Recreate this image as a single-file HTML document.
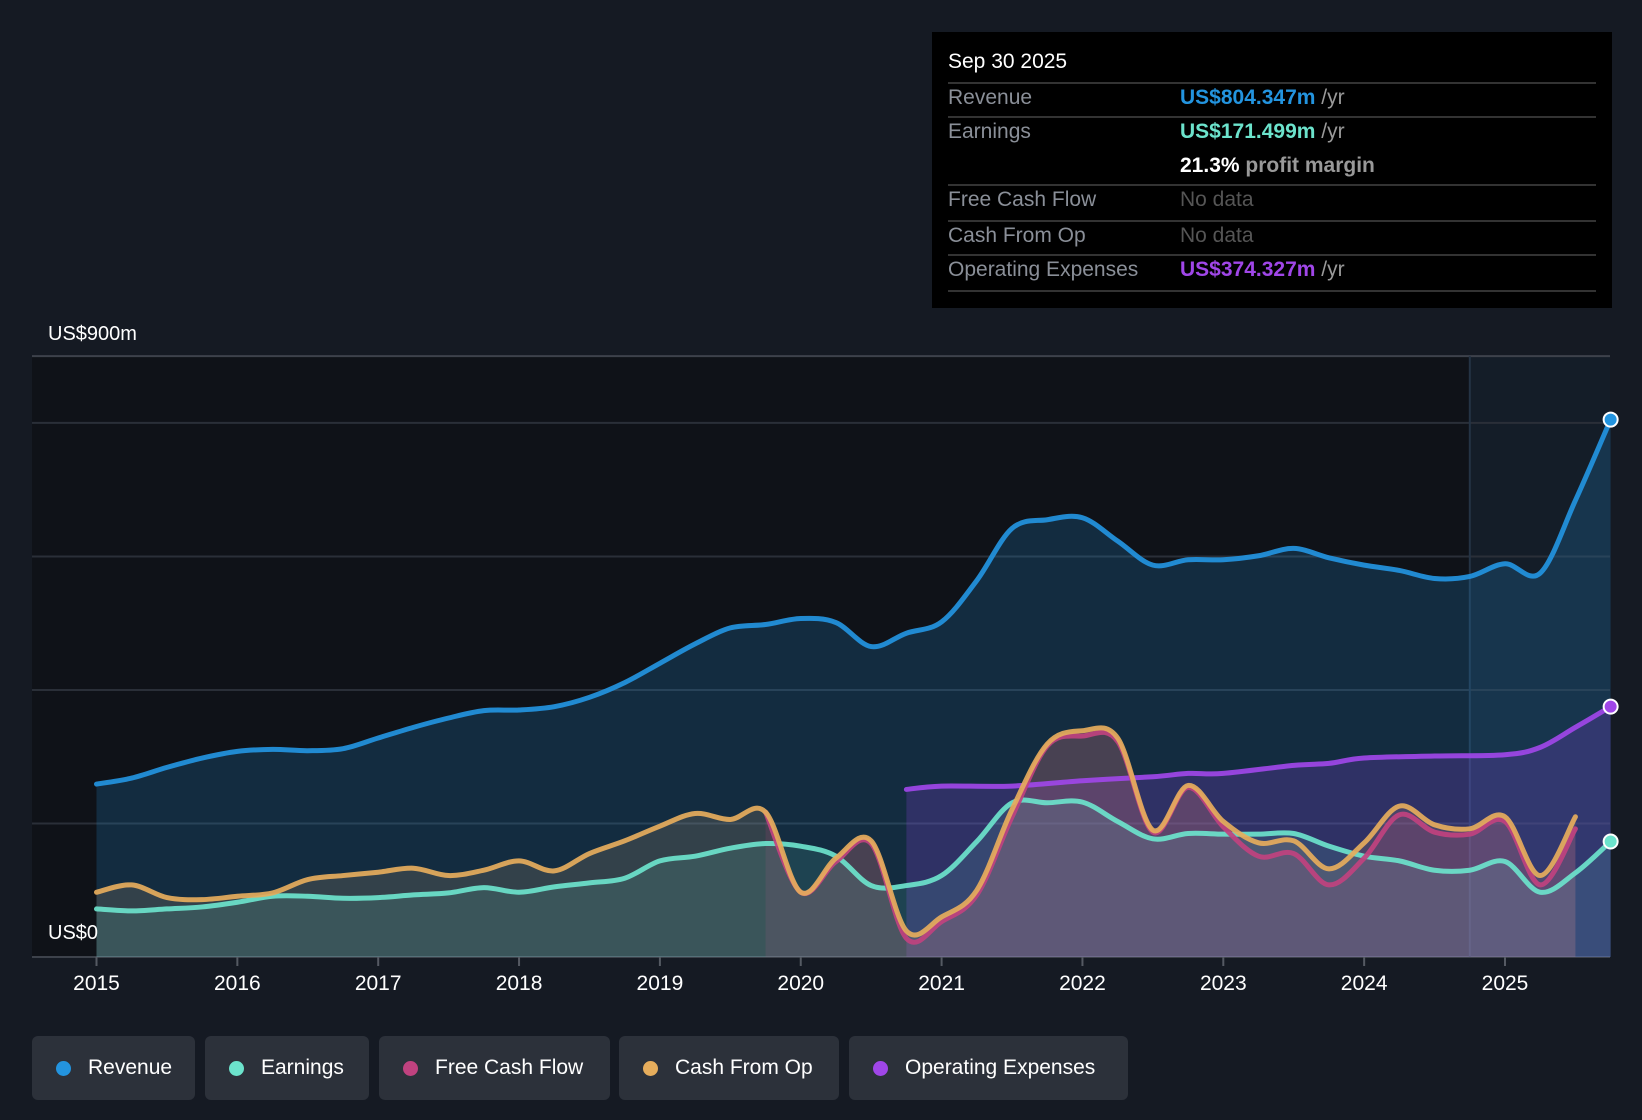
<!DOCTYPE html>
<html><head><meta charset="utf-8"><style>
body{margin:0;background:#151a23;font-family:"Liberation Sans",sans-serif;}
#wrap{position:relative;width:1642px;height:1120px;overflow:hidden;background:#151a23}
svg{position:absolute;left:0;top:0}
.tip{position:absolute;left:932px;top:32px;width:680px;height:276px;background:#000;}
.tip div{position:absolute;font-size:21px;white-space:nowrap}
.hl{position:absolute;left:16px;width:648px;height:2px;background:#333}
.leg{position:absolute;top:1036px;height:64px;background:#2c313a;border-radius:6px;color:#fff;font-size:21px;line-height:64px;box-sizing:border-box;padding-left:56px}
.leg i{position:absolute;left:24px;top:25px;width:15px;height:15px;border-radius:50%}
</style></head><body>
<div id="wrap">
<svg id="svg" width="1642" height="1120"></svg>
<div class="tip">
<div style="left:16px;top:18px;color:#fff">Sep 30 2025</div>
<span class="hl" style="top:50px"></span>
<div style="left:16px;top:54px;color:#8a8f98">Revenue</div>
<div style="left:248px;top:54px;color:#2394df;font-weight:bold">US$804.347m <span style="color:#999;font-weight:normal">/yr</span></div>
<span class="hl" style="top:84px"></span>
<div style="left:16px;top:88px;color:#8a8f98">Earnings</div>
<div style="left:248px;top:88px;color:#6ce3cc;font-weight:bold">US$171.499m <span style="color:#999;font-weight:normal">/yr</span></div>
<div style="left:248px;top:122px;color:#fff;font-weight:bold">21.3% <span style="color:#999">profit margin</span></div>
<span class="hl" style="top:152px"></span>
<div style="left:16px;top:156px;color:#8a8f98">Free Cash Flow</div>
<div style="left:248px;top:156px;color:#555">No data</div>
<span class="hl" style="top:188px"></span>
<div style="left:16px;top:192px;color:#8a8f98">Cash From Op</div>
<div style="left:248px;top:192px;color:#555">No data</div>
<span class="hl" style="top:222px"></span>
<div style="left:16px;top:226px;color:#8a8f98">Operating Expenses</div>
<div style="left:248px;top:226px;color:#a046e8;font-weight:bold">US$374.327m <span style="color:#999;font-weight:normal">/yr</span></div>
<span class="hl" style="top:258px"></span>
</div>
<div class="leg" style="left:32px;width:163px"><i style="background:#2394df"></i>Revenue</div>
<div class="leg" style="left:205px;width:164px"><i style="background:#6ce3cc"></i>Earnings</div>
<div class="leg" style="left:379px;width:231px"><i style="background:#c0427f"></i>Free Cash Flow</div>
<div class="leg" style="left:619px;width:220px"><i style="background:#e6ad5c"></i>Cash From Op</div>
<div class="leg" style="left:849px;width:279px"><i style="background:#a046e8"></i>Operating Expenses</div>
</div>
<script>
const revYears=[2015,2015.25,2015.5,2015.75,2016,2016.25,2016.5,2016.75,2017,2017.25,2017.5,2017.75,2018,2018.25,2018.5,2018.75,2019,2019.25,2019.5,2019.75,2020,2020.25,2020.5,2020.75,2021,2021.25,2021.5,2021.75,2022,2022.25,2022.5,2022.75,2023,2023.25,2023.5,2023.75,2024,2024.25,2024.5,2024.75,2025,2025.25,2025.5,2025.75];
const revenue=[259,268,284,298,308,311,309,312,328,344,358,369,370,375,389,411,440,469,493,498,507,501,465,485,502,564,642,655,658,623,587,595,595,601,612,598,587,579,567,570,589,575,684,805];
const earnings=[72,69,72,75,82,91,91,88,89,93,96,104,97,105,111,118,144,151,163,170,166,151,107,107,122,173,231,231,232,203,177,185,184,184,185,166,151,144,130,130,143,97,126,173];
const cfoYears=revYears.slice(0,43);
const cfo=[97,108,89,86,91,96,116,122,127,133,122,130,144,129,155,174,196,215,206,217,97,148,174,39,60,100,221,319,339,328,190,257,203,171,174,132,171,226,198,192,210,122,210];
const fcfYears=revYears.slice(19,43);
const fcf=[217,97,143,170,28,53,93,210,316,331,323,187,254,195,151,155,108,148,213,187,184,203,108,192];
const opexYears=[2020.75,2021,2021.5,2022,2022.5,2022.75,2023,2023.5,2023.75,2024,2024.5,2025,2025.25,2025.5,2025.75];
const opex=[251,256,256,264,270,275,275,287,290,298,301,303,314,344,375];
const yTicks=[0,200,400,600,800,900];
const xTicks=[2015,2016,2017,2018,2019,2020,2021,2022,2023,2024,2025];
const X=y=>96.5+(y-2015)*140.85, Y=v=>957-v*0.6676;
const NS='http://www.w3.org/2000/svg', svg=document.getElementById('svg');
function mk(t,a,p){const e=document.createElementNS(NS,t);for(const k in a)e.setAttribute(k,a[k]);(p||svg).appendChild(e);return e;}
function path(xs,vs){const p=xs.map((x,i)=>[X(x),Y(vs[i])]);let d='M'+p[0][0]+','+p[0][1];
for(let i=0;i<p.length-1;i++){const p0=p[i-1]||p[i],p1=p[i],p2=p[i+1],p3=p[i+2]||p2;
d+=' C'+(p1[0]+(p2[0]-p0[0])/6)+','+(p1[1]+(p2[1]-p0[1])/6)+' '+(p2[0]-(p3[0]-p1[0])/6)+','+(p2[1]-(p3[1]-p1[1])/6)+' '+p2[0]+','+p2[1];}return d;}
function area(xs,vs){return path(xs,vs)+' L'+X(xs[xs.length-1])+','+Y(0)+' L'+X(xs[0])+','+Y(0)+'Z';}
const bg=mk('rect',{x:32,y:Y(900),width:X(2024.75)-32,height:Y(0)-Y(900),fill:'#0f1218'});

const fc=mk('rect',{x:X(2024.75),y:Y(900),width:1610-X(2024.75),height:Y(0)-Y(900),fill:'#141d28'});

yTicks.forEach(v=>{const l=mk('line',{x1:32,x2:1610,y1:Y(v),y2:Y(v),stroke:v==900||v==0?'#3d424b':'#2a2f38','stroke-width':2});
});
mk('line',{x1:X(2024.75),x2:X(2024.75),y1:Y(900),y2:Y(0),stroke:'#243344','stroke-width':2});
const ar=[[revYears,revenue,'rgba(35,148,223,0.2)','revenue-area'],[opexYears,opex,'rgba(150,70,230,0.22)','opex-area'],[cfoYears,cfo,'rgba(200,160,120,0.18)','cfo-area'],[fcfYears,fcf,'rgba(192,66,127,0.15)','fcf-area'],[revYears,earnings,'rgba(108,227,204,0.13)','earnings-area']];
ar.forEach(a=>{const e=mk('path',{d:area(a[0],a[1]),fill:a[2]});});
const ln=[[revYears,revenue,'#2394df','revenue-line'],[opexYears,opex,'#a046e8','opex-line'],[revYears,earnings,'#6ce3cc','earnings-line'],[fcfYears,fcf,'#c0427f','fcf-line'],[cfoYears,cfo,'#e6ad5c','cfo-line']];
ln.forEach(a=>{const e=mk('path',{d:path(a[0],a[1]),fill:'none',stroke:a[2],'stroke-width':5,'stroke-linecap':'round',opacity:0.92});});
[[revenue,'#2394df'],[opex,'#a046e8'],[earnings,'#6ce3cc']].forEach(a=>{const c=mk('circle',{cx:X(2025.75),cy:Y(a[0][a[0].length-1]),r:7,fill:a[1],stroke:'#fff','stroke-width':2});
});
xTicks.forEach(t=>{mk('line',{x1:X(t),x2:X(t),y1:957,y2:966,stroke:'#555a63','stroke-width':2});
const e=mk('text',{x:X(t),y:990,fill:'#fff','font-size':21,'text-anchor':'middle','font-family':'Liberation Sans'});e.textContent=t;
});
const t1=mk('text',{x:48,y:340,fill:'#fff','font-size':20,'font-family':'Liberation Sans'});t1.textContent='US$900m';

const t2=mk('text',{x:48,y:939,fill:'#fff','font-size':20,'font-family':'Liberation Sans'});t2.textContent='US$0';

</script>
</body></html>
